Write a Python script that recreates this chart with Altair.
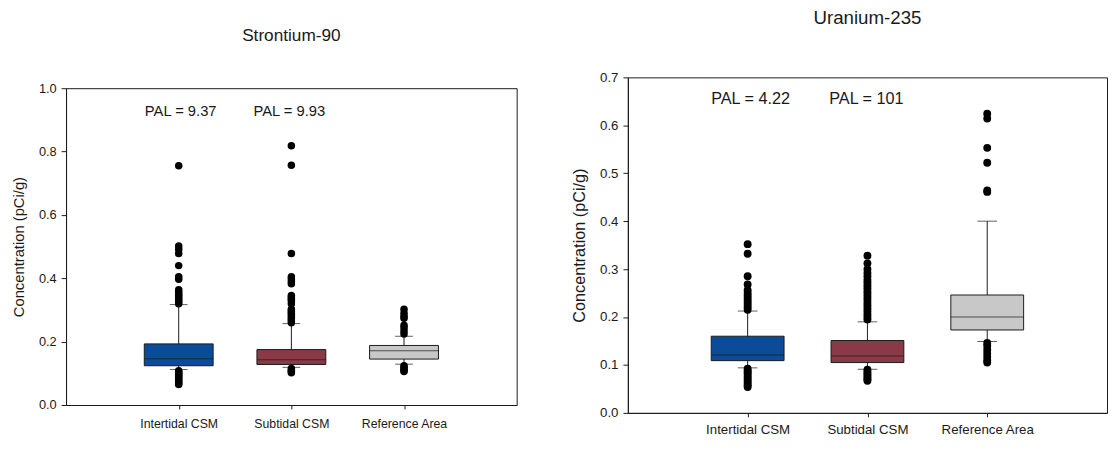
import altair as alt
import pandas as pd

FONT = "Liberation Sans"
INK = "#1a1a1a"

categories = ["Intertidal CSM", "Subtidal CSM", "Reference Area"]
box_colors = ["#0b4c98", "#8a3946", "#c8c8c8"]

# ---- Strontium-90 ----
sr_q1 = [0.124, 0.128, 0.145]
sr_median = [0.146, 0.143, 0.171]
sr_q3 = [0.193, 0.175, 0.188]
sr_lower = [0.112, 0.119, 0.129]
sr_upper = [0.317, 0.257, 0.217]
sr_out_intertidal = [0.755, 0.502, 0.492, 0.478, 0.44, 0.405, 0.397, 0.364, 0.357, 0.35,
                     0.344, 0.338, 0.332, 0.326, 0.32,
                     0.108, 0.104, 0.1, 0.096, 0.092, 0.088, 0.083, 0.078, 0.073, 0.068, 0.065]
sr_out_subtidal = [0.818, 0.757, 0.478, 0.405, 0.398, 0.39, 0.383, 0.346, 0.34, 0.334, 0.328,
                   0.32, 0.302, 0.296, 0.29, 0.284, 0.278, 0.272, 0.266, 0.26,
                   0.115, 0.11, 0.106, 0.102]
sr_out_reference = [0.302, 0.29, 0.28, 0.274, 0.252, 0.244, 0.234, 0.224,
                    0.124, 0.119, 0.114, 0.109, 0.106]
sr_pal_text = ["PAL = 9.37", "PAL = 9.93"]
sr_ticks = [0.0, 0.2, 0.4, 0.6, 0.8, 1.0]

# ---- Uranium-235 ----
u_q1 = [0.109, 0.105, 0.173]
u_median = [0.121, 0.1185, 0.200]
u_q3 = [0.160, 0.151, 0.246]
u_lower = [0.094, 0.091, 0.149]
u_upper = [0.2125, 0.190, 0.400]
u_out_intertidal = [0.352, 0.332, 0.285, 0.268, 0.256, 0.25, 0.245, 0.24, 0.235, 0.23,
                    0.225, 0.22, 0.215,
                    0.092, 0.088, 0.085, 0.081, 0.077, 0.073, 0.069, 0.065, 0.061, 0.057, 0.054]
u_out_subtidal = [0.328, 0.312, 0.3, 0.292, 0.285, 0.278, 0.272, 0.266, 0.26, 0.254, 0.248,
                  0.242, 0.236, 0.23, 0.224, 0.218, 0.212, 0.206, 0.2, 0.195,
                  0.09, 0.086, 0.082, 0.078, 0.074, 0.07, 0.067]
u_out_reference = [0.624, 0.614, 0.553, 0.522, 0.464, 0.461,
                   0.146, 0.14, 0.132, 0.124, 0.117, 0.11, 0.105]
u_pal_text = ["PAL = 4.22", "PAL = 101"]
u_ticks = [0.0, 0.1, 0.2, 0.3, 0.4, 0.5, 0.6, 0.7]

FRAME = alt.ViewBackground(stroke=INK, strokeWidth=1)


def panel(title_text, title_size, title_offset,
          q1, med, q3, lo, hi, outs, pal_text, pal_y, pal_dx,
          yticks, ymax, width, height, box_w, cap_w, dot_size,
          tick_fs, xlab_fs, ytitle_fs, pal_fs, xlab_pad, ytitle_pad):
    stats = pd.DataFrame({"cat": categories, "q1": q1, "med": med, "q3": q3,
                          "lo": lo, "hi": hi})
    caps = pd.DataFrame({"cat": categories * 2, "v": lo + hi})
    out_rows = []
    for c, vals in zip(categories, outs):
        for v in vals:
            out_rows.append({"cat": c, "v": v})
    out_df = pd.DataFrame(out_rows)

    x = alt.X("cat:N", sort=categories, title=None,
              scale=alt.Scale(type="point", padding=1, domain=categories),
              axis=alt.Axis(labelAngle=0, tickSize=4, labelPadding=xlab_pad,
                            labelFontSize=xlab_fs, labelFont=FONT, labelColor=INK,
                            domainColor=INK, tickColor=INK, grid=False))
    yscale = alt.Scale(domain=[0, ymax], nice=False, zero=True)
    yaxis = alt.Axis(values=yticks, format=".1f", grid=False, tickSize=5, labelPadding=5,
                     labelFontSize=tick_fs, labelFont=FONT, labelColor=INK,
                     domainColor=INK, tickColor=INK,
                     title="Concentration (pCi/g)", titleFont=FONT, titleFontSize=ytitle_fs,
                     titleFontWeight="normal", titleColor=INK, titlePadding=ytitle_pad)

    base = alt.Chart(stats)
    whisk = base.mark_rule(color=INK, strokeWidth=1).encode(
        x=x, y=alt.Y("lo:Q", scale=yscale, axis=yaxis), y2="hi:Q")
    box = base.mark_bar(size=box_w, stroke=INK, strokeWidth=1).encode(
        x=x, y=alt.Y("q1:Q", scale=yscale, axis=yaxis), y2="q3:Q",
        color=alt.Color("cat:N", scale=alt.Scale(domain=categories, range=box_colors),
                        legend=None))
    median = base.mark_tick(size=box_w, thickness=1, color=INK).encode(
        x=x, y=alt.Y("med:Q", scale=yscale, axis=yaxis))
    cap = alt.Chart(caps).mark_tick(size=cap_w, thickness=1, color=INK).encode(
        x=x, y=alt.Y("v:Q", scale=yscale, axis=yaxis))
    dots = alt.Chart(out_df).mark_circle(size=dot_size, color="#000000", opacity=1).encode(
        x=x, y=alt.Y("v:Q", scale=yscale, axis=yaxis))
    pal_layers = []
    for i in range(2):
        sub = pd.DataFrame({"cat": [categories[i]], "v": [pal_y], "t": [pal_text[i]]})
        pal_layers.append(
            alt.Chart(sub).mark_text(font=FONT, fontSize=pal_fs, color=INK,
                                     baseline="middle", dx=pal_dx[i]).encode(
                x=x, y=alt.Y("v:Q", scale=yscale, axis=yaxis), text="t:N"))

    return alt.layer(whisk, box, median, cap, dots, *pal_layers).properties(
        width=width, height=height, view=FRAME,
        title=alt.TitleParams(text=title_text, fontSize=title_size, font=FONT,
                              fontWeight="normal", color=INK, anchor="middle",
                              frame="group", offset=title_offset))


def spacer(h):
    return alt.Chart(pd.DataFrame({"s": [0]})).mark_point(size=1, opacity=0).encode(
        x=alt.value(0.5), y=alt.value(h / 2.0)
    ).properties(width=1, height=h,
                 view=alt.ViewBackground(stroke="transparent", fill="transparent"))


left = panel("Strontium-90", 17.5, 38,
             sr_q1, sr_median, sr_q3, sr_lower, sr_upper,
             [sr_out_intertidal, sr_out_subtidal, sr_out_reference],
             sr_pal_text, 0.929, [2, -2], sr_ticks, 1.0, 458, 322, 70, 18, 58,
             13, 12.5, 15, 15, 9, 12)

right = panel("Uranium-235", 19, 43,
              u_q1, u_median, u_q3, u_lower, u_upper,
              [u_out_intertidal, u_out_subtidal, u_out_reference],
              u_pal_text, 0.655, [3, -1], u_ticks, 0.7, 487, 341, 74, 20, 64,
              13.5, 13.5, 16.5, 16.5, 6, 12)

left_col = alt.vconcat(spacer(20), left, spacing=0)
right_col = alt.vconcat(spacer(1), right, spacing=0)

chart = alt.hconcat(left_col, right_col, spacing=54).properties(
    padding={"left": 3, "top": -6, "right": 0, "bottom": -2},
    background="white",
)

chart.save("out.html", embed_options={"renderer": "svg", "actions": False})
